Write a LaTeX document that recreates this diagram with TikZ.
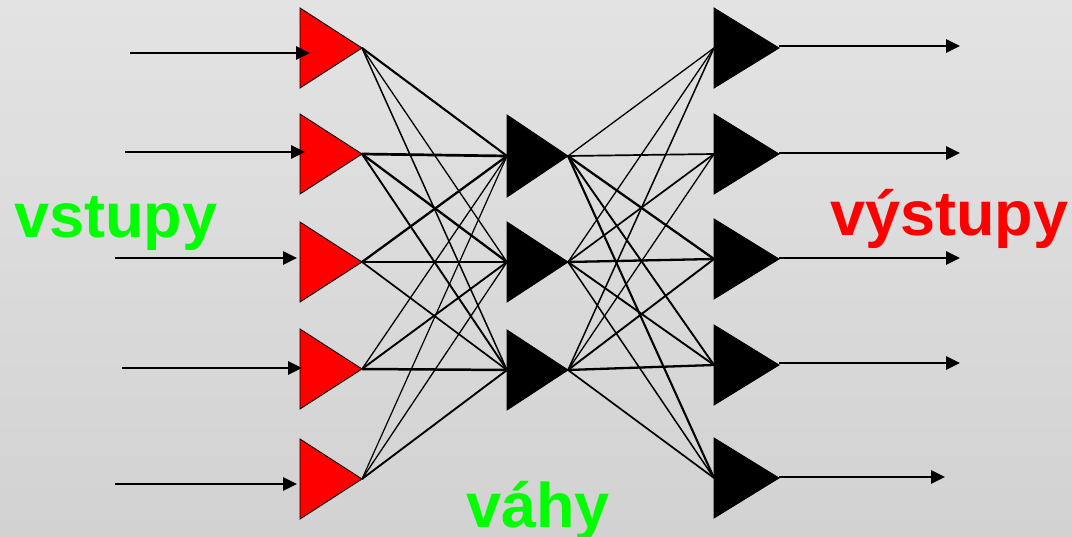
\documentclass[tikz,border=0pt]{standalone}
\usepackage{fontspec}
\setmainfont{Liberation Sans}
\usetikzlibrary{arrows.meta}
\definecolor{bgtop}{HTML}{E3E3E3}
\definecolor{bgbot}{HTML}{D2D2D2}
\definecolor{lime}{HTML}{00FF00}
\definecolor{pured}{HTML}{FF0000}
\begin{document}
\begin{tikzpicture}[x=1pt,y=-1pt,
  redtri/.style={fill=pured,draw=black,line width=0.9pt,line join=miter},
  blktri/.style={fill=black,draw=black,line width=0.9pt,line join=miter},
  arr/.style={line width=2.6pt,-{Triangle[length=14pt,width=13pt]}},
  wire/.style={draw=black},
  lbl/.style={anchor=base west,inner sep=0pt,font=\bfseries\fontsize{63}{63}\selectfont}]
\shade[top color=bgtop,bottom color=bgbot] (0,0) rectangle (1072,537);
\useasboundingbox (0,0) rectangle (1072,537);
% coordinates
\foreach \i/\yt/\yb in {1/8/88,2/114/194,3/222/302,4/329/409,5/439/519}{
  \coordinate (in\i-l) at (300,{(\yt+\yb)/2});
  \coordinate (in\i-t) at (362,{(\yt+\yb)/2});
}
\foreach \i/\yt/\yb in {1/115/197,2/222/302,3/330/410}{
  \coordinate (hid\i-l) at (507,{(\yt+\yb)/2});
  \coordinate (hid\i-t) at (568,{(\yt+\yb)/2});
}
\foreach \i/\yt/\yb in {1/8/88,2/114/194,3/219/299,4/325/405,5/438/518}{
  \coordinate (out\i-l) at (714,{(\yt+\yb)/2});
  \coordinate (out\i-t) at (779,{(\yt+\yb)/2});
}
% weights input -> hidden
\foreach \i/\j/\w in {1/1/2.1,1/2/1.3,1/3/1.5,
                      2/1/2.7,2/2/2.3,2/3/1.9,
                      3/1/2.3,3/2/2.7,3/3/1.7,
                      4/1/1.3,4/2/1.9,4/3/2.5,
                      5/1/1.2,5/2/1.3,5/3/1.9}{
  \draw[wire,line width=\w pt] (in\i-t) -- (hid\j-l);
}
% weights hidden -> output
\foreach \i/\j/\w in {1/1/1.3,1/2/1.7,1/3/2.3,1/4/1.9,1/5/2.1,
                      2/1/1.3,2/2/1.7,2/3/2.3,2/4/1.9,2/5/1.5,
                      3/1/1.5,3/2/1.3,3/3/1.9,3/4/2.3,3/5/1.7}{
  \draw[wire,line width=\w pt] (hid\i-t) -- (out\j-l);
}
% triangles
\foreach \i/\yt/\yb in {1/8/88,2/114/194,3/222/302,4/329/409,5/439/519}{
  \path[redtri] (300,\yt) -- (in\i-t) -- (300,\yb) -- cycle;
}
\foreach \i/\yt/\yb in {1/115/197,2/222/302,3/330/410}{
  \path[blktri] (507,\yt) -- (hid\i-t) -- (507,\yb) -- cycle;
}
\foreach \i/\yt/\yb in {1/8/88,2/114/194,3/219/299,4/325/405,5/438/518}{
  \path[blktri] (714,\yt) -- (out\i-t) -- (714,\yb) -- cycle;
}
% input arrows
\foreach \i/\xs/\xe/\y in {1/130/310/53,2/125/305/152,3/115/297/258,4/122/302/368,5/115/297/484}{
  \coordinate (src\i) at (\xs,\y);
  \coordinate (dst\i) at (\xe,\y);
  \draw[arr] (src\i) -- (dst\i);
}
% output arrows
\foreach \i/\xe/\y in {1/960/46,2/960/153,3/960/258,4/960/363,5/945/477}{
  \coordinate (res\i) at (\xe,\y);
  \draw[arr] (out\i-t |- res\i) -- (res\i);
}
% labels
\node[lbl,text=lime] (lin) at (14,238) {vstupy};
\node[lbl,text=pured] (lout) at (830,236) {výstupy};
\node[lbl,text=lime] (lw) at (466,527) {váhy};
\end{tikzpicture}
\end{document}
